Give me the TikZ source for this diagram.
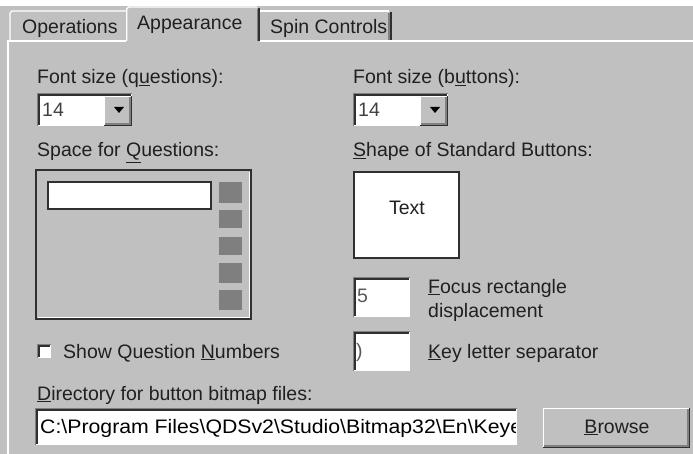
\documentclass[tikz,border=0pt]{standalone}
\usepackage{fontspec}
\setmainfont{Liberation Sans}
\definecolor{winbg}{HTML}{C0C0C0}
\definecolor{shadowc}{HTML}{808080}
\definecolor{dkline}{HTML}{303030}
\definecolor{squarec}{HTML}{7F7F7F}
\definecolor{txtc}{HTML}{202020}
\newcommand{\sunkenbox}[4]{%
  \fill[white] (#1,#2) rectangle (#3,#4);
  \draw[shadowc, line width=1.3] (#1+0.65,#4) -- (#1+0.65,#2+0.65) -- (#3,#2+0.65);
  \draw[dkline, line width=1.3] (#1+1.95,#4-1.3) -- (#1+1.95,#2+1.95) -- (#3-1.3,#2+1.95);
}
\newcommand{\raisedbox}[4]{%
  \fill[winbg] (#1,#2) rectangle (#3,#4);
  \draw[white, line width=1.3] (#1+0.65,#4-1.3) -- (#1+0.65,#2+0.65) -- (#3-1.3,#2+0.65);
  \draw[dkline, line width=1.3] (#1,#4-0.65) -- (#3-0.65,#4-0.65) -- (#3-0.65,#2);
  \draw[shadowc, line width=1.3] (#1+1.3,#4-1.95) -- (#3-1.95,#4-1.95) -- (#3-1.95,#2+1.3);
}
\newcommand{\combo}[4]{% x1 y1 x2 y2 ; arrow button 27 wide
  \sunkenbox{#1}{#2}{#3}{#4}
  \raisedbox{#3-28}{#2+2.6}{#3}{#4}
  \fill[black] (#3-18,#2+14) -- (#3-8,#2+14) -- (#3-13,#2+20) -- cycle;
}
\tikzset{
  lbl/.style={anchor=base west, inner sep=0pt, font=\fontsize{19.5}{23}\selectfont, text=txtc},
  tablbl/.style={anchor=base west, inner sep=0pt, font=\fontsize{19.5}{23}\selectfont, text=txtc},
  sq/.style={fill=squarec, draw=none},
}
\begin{document}
\begin{tikzpicture}[x=1pt,y=-1pt]
\useasboundingbox (0,0) rectangle (693,454);
% backgrounds
\fill[white] (0,0) rectangle (693,6);
\fill[winbg] (0,6) rectangle (693,454);
% panel edges
\draw[white, line width=1.5] (8,454) -- (8,41) -- (127,41);
\draw[white, line width=1.5] (259,41) -- (693,41);
% Operations tab
\draw[white, line width=1.3] (10,41) -- (10,13) -- (12,11) -- (127,11);
\node[tablbl] (tabops) at (22,34) {Operations};
% Spin Controls tab
\draw[white, line width=1.3] (260,11) -- (389,11);
\draw[dkline, line width=1.6] (391,12) -- (391,40);
\draw[shadowc, line width=1.2] (389,13) -- (389,40);
\node[tablbl] (tabspin) at (270,34) {Spin Controls};
% Appearance tab (active)
\fill[winbg] (126,7) rectangle (260,42);
\draw[white, line width=1.4] (126.7,41) -- (126.7,9) -- (128.5,7) -- (257,7);
\draw[dkline, line width=1.6] (259.2,8) -- (259.2,41);
\draw[shadowc, line width=1.2] (257.5,9) -- (257.5,41);
\node[tablbl] (tabapp) at (137,30) {Appearance};
% left column
\node[lbl] (fsq) at (37,84) {Font size (q\underline{u}estions):};
\combo{37}{93}{132}{126}
\node[lbl, text=black!75] (fsqv) at (42,117) {14};
\node[lbl] (sfq) at (37,157) {Space for \underline{Q}uestions:};
% question space preview
\draw[dkline, line width=2] (35.5,170.5) rectangle (250.5,318.5);
\draw[white, line width=0.8] (37.5,317) -- (249,317) -- (249,172);
\draw[dkline, line width=1.8, fill=white] (48,182) rectangle (211,209);
\fill[sq] (219,182) rectangle (242,203);
\fill[sq] (219,210) rectangle (242,228);
\fill[sq] (219,237) rectangle (242,255);
\fill[sq] (219,263) rectangle (242,283);
\fill[sq] (219,290) rectangle (242,310);
% checkbox
\sunkenbox{37}{344}{51}{358}
\node[lbl] (sqn) at (63,358) {Show Question \underline{N}umbers};
% directory
\node[lbl] (dir) at (37,400) {\underline{D}irectory for button bitmap files:};
\sunkenbox{35}{408}{517}{445}
\begin{scope}
  \clip (39,410) rectangle (515,443);
  \node[lbl, text=black] (dirv) at (40,433) {\scalebox{1.09}[1]{C:\textbackslash Program Files\textbackslash QDSv2\textbackslash Studio\textbackslash Bitmap32\textbackslash En\textbackslash Keye}};
\end{scope}
\raisedbox{543}{408}{690}{448}
\node[anchor=base, inner sep=0pt, font=\fontsize{19.5}{23}\selectfont, text=txtc] (browse) at (617,433) {\underline{B}rowse};
% right column
\node[lbl] (fsb) at (353,84) {Font size (b\underline{u}ttons):};
\combo{353}{93}{448}{126}
\node[lbl, text=black!75] (fsbv) at (358,117) {14};
\node[lbl] (ssb) at (353,157) {\underline{S}hape of Standard Buttons:};
\draw[dkline, line width=2, fill=white] (354,172) rectangle (459,258);
\node[anchor=base, inner sep=0pt, font=\fontsize{19.5}{23}\selectfont, text=txtc] (btntext) at (407,215) {Text};
\sunkenbox{353}{277}{410}{317}
\node[lbl, text=black!65] (focv) at (357,302) {5};
\node[lbl] (foc1) at (428,293) {\underline{F}ocus rectangle};
\node[lbl] (foc2) at (428,317) {displacement};
\sunkenbox{353}{331}{410}{371}
\node[lbl, text=black!65] (keyv) at (356,357) {)};
\node[lbl] (key) at (428,358) {\underline{K}ey letter separator};
\end{tikzpicture}
\end{document}
